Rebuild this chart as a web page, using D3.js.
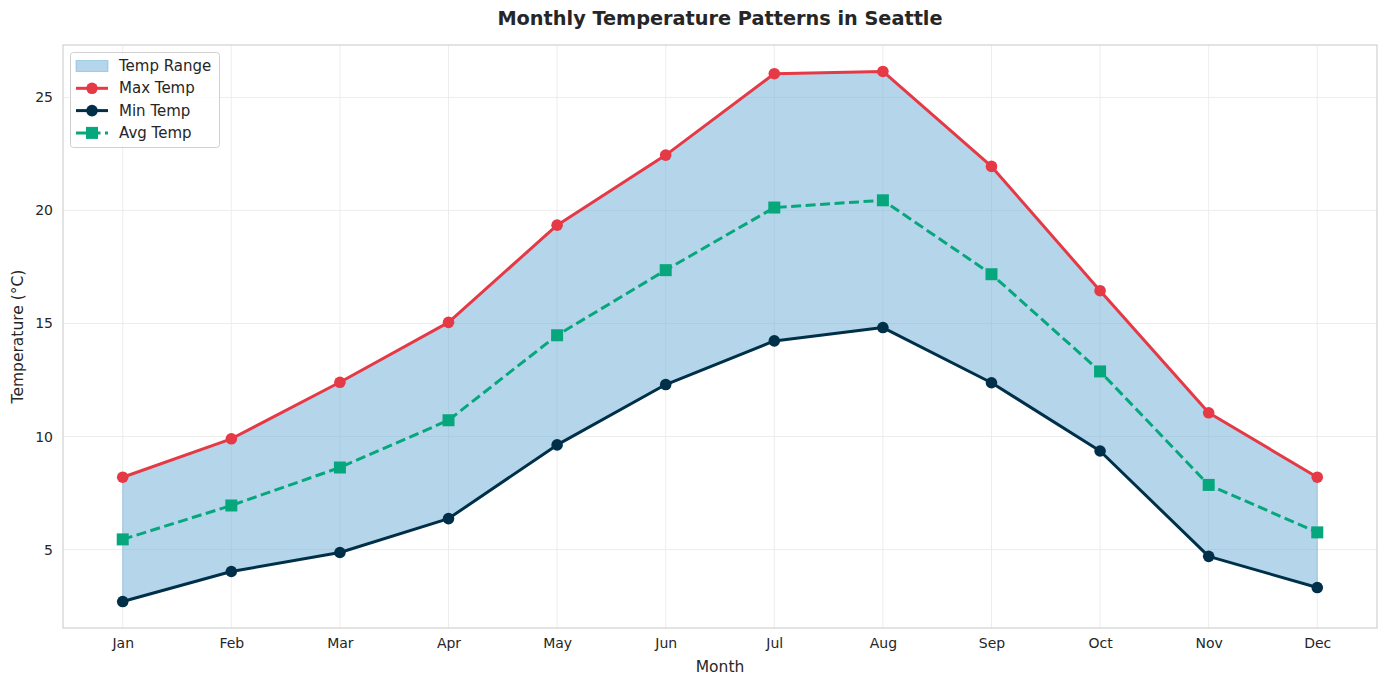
<!DOCTYPE html>
<html>
<head>
<meta charset="utf-8">
<script src="https://cdn.jsdelivr.net/npm/d3@7"></script>
<style>
  html, body { margin: 0; padding: 0; background: #fff; }
  svg { display: block; font-family: "DejaVu Sans", sans-serif; }
</style>
</head>
<body>
<svg id="chart" width="1387" height="686"></svg>
<script>
const months = ["Jan","Feb","Mar","Apr","May","Jun","Jul","Aug","Sep","Oct","Nov","Dec"];
const maxTemp = [8.2, 9.9, 12.4, 15.05, 19.35, 22.45, 26.05, 26.15, 21.95, 16.45, 11.05, 8.2];
const minTemp = [2.7, 4.03, 4.87, 6.37, 9.63, 12.3, 14.23, 14.82, 12.38, 9.36, 4.7, 3.32];
const avgTemp = [5.45, 6.95, 8.63, 10.72, 14.48, 17.36, 20.13, 20.45, 17.18, 12.88, 7.86, 5.76];
const yTicks = [5, 10, 15, 20, 25];

const svg = d3.select("#chart");
const L = 63, R = 1377, T = 45, B = 628;

const x = d3.scaleLinear().domain([-0.55, 11.55]).range([L, R]);
const yMin = 1.53, yMax = 27.32;
const y = d3.scaleLinear().domain([yMin, yMax]).range([B, T]);

const g = svg.append("g");

// grid
g.append("g").selectAll("line.v").data(months).join("line")
  .attr("x1", (d,i) => x(i)).attr("x2", (d,i) => x(i))
  .attr("y1", T).attr("y2", B)
  .attr("stroke", "#ebebeb").attr("stroke-width", 0.9);
g.append("g").selectAll("line.h").data(yTicks).join("line")
  .attr("x1", L).attr("x2", R)
  .attr("y1", d => y(d)).attr("y2", d => y(d))
  .attr("stroke", "#ebebeb").attr("stroke-width", 0.9);

// fill area
const area = d3.area()
  .x((d,i) => x(i))
  .y0((d,i) => y(minTemp[i]))
  .y1((d,i) => y(maxTemp[i]));
g.append("path").datum(months)
  .attr("d", area)
  .attr("fill", "#6baed6").attr("fill-opacity", 0.5)
  .attr("stroke", "#6baed6").attr("stroke-opacity", 0.5).attr("stroke-width", 1);

const line = arr => d3.line().x((d,i) => x(i)).y(d => y(d))(arr);

// max
g.append("path").attr("d", line(maxTemp)).attr("fill", "none")
  .attr("stroke", "#e63946").attr("stroke-width", 3).attr("stroke-linejoin", "round");
g.append("g").selectAll("circle").data(maxTemp).join("circle")
  .attr("cx", (d,i) => x(i)).attr("cy", d => y(d)).attr("r", 5.8).attr("fill", "#e63946");

// min
g.append("path").attr("d", line(minTemp)).attr("fill", "none")
  .attr("stroke", "#003049").attr("stroke-width", 3).attr("stroke-linejoin", "round");
g.append("g").selectAll("circle").data(minTemp).join("circle")
  .attr("cx", (d,i) => x(i)).attr("cy", d => y(d)).attr("r", 5.8).attr("fill", "#003049");

// avg
g.append("path").attr("d", line(avgTemp)).attr("fill", "none")
  .attr("stroke", "#06a77d").attr("stroke-width", 3).attr("stroke-dasharray", "10,4.5");
g.append("g").selectAll("rect").data(avgTemp).join("rect")
  .attr("x", (d,i) => x(i) - 6).attr("y", d => y(d) - 6)
  .attr("width", 12).attr("height", 12).attr("fill", "#06a77d");

// spines
g.append("rect").attr("x", L).attr("y", T).attr("width", R - L).attr("height", B - T)
  .attr("fill", "none").attr("stroke", "#cccccc").attr("stroke-width", 1.1);

// ticks
const xAxis = d3.axisBottom(x).tickValues(d3.range(12)).tickFormat(i => months[i]).tickSize(0).tickPadding(10);
const xa = svg.append("g").attr("transform", `translate(0,${B})`).call(xAxis);
xa.select(".domain").remove();
xa.selectAll("text").attr("font-size", 14).attr("fill", "#262626").attr("font-family", "DejaVu Sans");

const yAxis = d3.axisLeft(y).tickValues(yTicks).tickSize(0).tickPadding(10);
const ya = svg.append("g").attr("transform", `translate(${L},0)`).call(yAxis);
ya.select(".domain").remove();
ya.selectAll("text").attr("font-size", 14).attr("fill", "#262626").attr("font-family", "DejaVu Sans");

// labels
svg.append("text").attr("x", (L + R) / 2).attr("y", 25)
  .attr("text-anchor", "middle").attr("font-size", 19.3).attr("font-weight", "bold")
  .attr("fill", "#262626").text("Monthly Temperature Patterns in Seattle");
svg.append("text").attr("x", (L + R) / 2).attr("y", 672)
  .attr("text-anchor", "middle").attr("font-size", 15.5).attr("fill", "#262626").text("Month");
svg.append("text").attr("transform", `translate(23,${(T + B) / 2}) rotate(-90)`)
  .attr("text-anchor", "middle").attr("font-size", 15.5).attr("fill", "#262626").text("Temperature (°C)");

// legend
const lg = svg.append("g");
lg.append("rect").attr("x", 70.5).attr("y", 52.5).attr("width", 149).attr("height", 95)
  .attr("rx", 3).attr("fill", "#fff").attr("fill-opacity", 0.8).attr("stroke", "#d0d0d0");
const items = [
  {label: "Temp Range", type: "patch"},
  {label: "Max Temp", type: "circle", color: "#e63946"},
  {label: "Min Temp", type: "circle", color: "#003049"},
  {label: "Avg Temp", type: "square", color: "#06a77d"}
];
items.forEach((it, k) => {
  const cy = 66 + k * 22.3;
  if (it.type === "patch") {
    lg.append("rect").attr("x", 76).attr("y", cy - 5.5).attr("width", 32).attr("height", 11)
      .attr("fill", "#6baed6").attr("fill-opacity", 0.5).attr("stroke", "#6baed6").attr("stroke-opacity", 0.5);
  } else {
    lg.append("line").attr("x1", 76).attr("x2", 108).attr("y1", cy).attr("y2", cy)
      .attr("stroke", it.color).attr("stroke-width", 3)
      .attr("stroke-dasharray", it.type === "square" ? "10,4.5" : null);
    if (it.type === "circle") {
      lg.append("circle").attr("cx", 92).attr("cy", cy).attr("r", 5.8).attr("fill", it.color);
    } else {
      lg.append("rect").attr("x", 86).attr("y", cy - 6).attr("width", 12).attr("height", 12).attr("fill", it.color);
    }
  }
  lg.append("text").attr("x", 119).attr("y", cy + 5).attr("font-size", 15).attr("fill", "#262626").text(it.label);
});
</script>
</body>
</html>
